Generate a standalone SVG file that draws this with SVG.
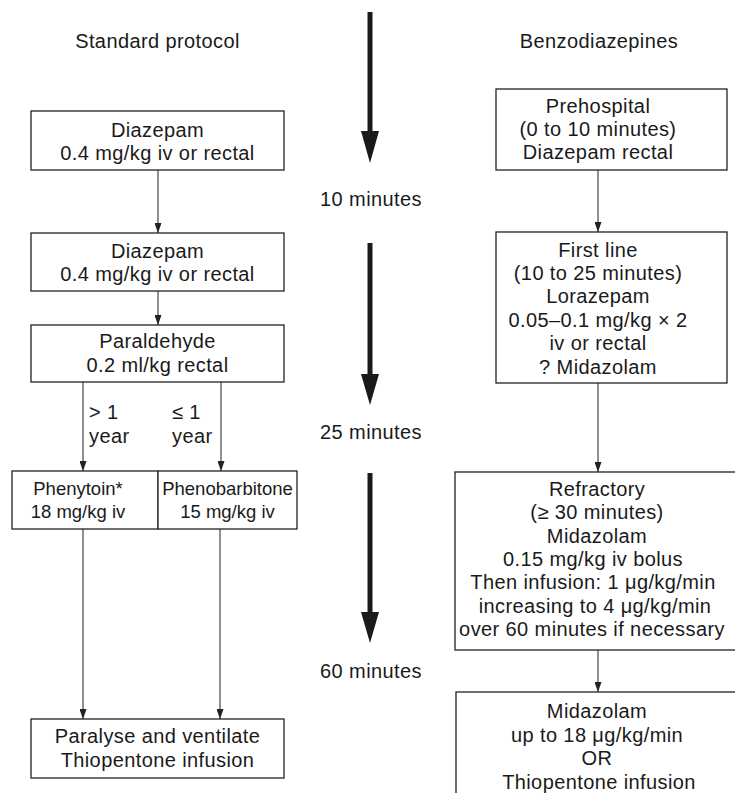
<svg xmlns="http://www.w3.org/2000/svg" width="735" height="793" viewBox="0 0 735 793">
<defs>
<style>
text{font-family:"Liberation Sans",Arial,sans-serif;font-size:20px;fill:#1a1a1a;text-anchor:middle;letter-spacing:0.4px}
.l{text-anchor:start}
.s{font-size:18.5px;letter-spacing:0}
.box{fill:#fff;stroke:#222;stroke-width:1.3}
.c{stroke:#333;stroke-width:1.1;fill:none;marker-end:url(#ah)}
.big{fill:#1a1a1a}
</style>
<marker id="ah" markerUnits="userSpaceOnUse" markerWidth="10" markerHeight="7" refX="10" refY="3.5" orient="auto" viewBox="0 0 10 7">
<path d="M0,0 L10,3.5 L0,7 Z" fill="#222"/>
</marker>
</defs>
<rect width="735" height="793" fill="#fff"/>

<g id="headers">
<text x="157.5" y="48">Standard protocol</text>
<text x="599" y="48">Benzodiazepines</text>
</g>

<g id="timeline">
<path class="big" d="M367.5,12 h5 v119 h6.5 l-9,32 l-9,-32 h6.5 z"/>
<text x="371" y="206">10 minutes</text>
<path class="big" d="M367.5,243 h5 v131 h6.5 l-9,31 l-9,-31 h6.5 z"/>
<text x="371" y="439">25 minutes</text>
<path class="big" d="M367.5,473 h5 v139 h6.5 l-9,31 l-9,-31 h6.5 z"/>
<text x="371" y="678">60 minutes</text>
</g>

<g id="connectors">
<line class="c" x1="158" y1="170" x2="158" y2="233"/>
<line class="c" x1="158" y1="291" x2="158" y2="325"/>
<line class="c" x1="83" y1="382" x2="83" y2="471"/>
<line class="c" x1="221" y1="382" x2="221" y2="471"/>
<line class="c" x1="83" y1="529" x2="83" y2="719"/>
<line class="c" x1="220" y1="529" x2="220" y2="719"/>
<line class="c" x1="598" y1="170" x2="598" y2="232"/>
<line class="c" x1="598" y1="383" x2="598" y2="472"/>
<line class="c" x1="598" y1="650" x2="598" y2="692"/>
<text class="l" x="89" y="419">&gt; 1</text>
<text class="l" x="89" y="443">year</text>
<text class="l" x="172" y="419">≤ 1</text>
<text class="l" x="172" y="443">year</text>
</g>

<g id="diazepam1">
<rect class="box" x="31" y="111" width="253" height="59"/>
<text x="157.5" y="137">Diazepam</text>
<text x="157.5" y="160">0.4 mg/kg iv or rectal</text>
</g>
<g id="diazepam2">
<rect class="box" x="31" y="233" width="253" height="58"/>
<text x="157.5" y="258">Diazepam</text>
<text x="157.5" y="281">0.4 mg/kg iv or rectal</text>
</g>
<g id="paraldehyde">
<rect class="box" x="31" y="325" width="253" height="57"/>
<text x="157.5" y="348">Paraldehyde</text>
<text x="157.5" y="372">0.2 ml/kg rectal</text>
</g>
<g id="phenytoin">
<rect class="box" x="12" y="471" width="146" height="58"/>
<text class="s" x="78" y="495">Phenytoin*</text>
<text class="s" x="78" y="518">18 mg/kg iv</text>
</g>
<g id="phenobarbitone">
<rect class="box" x="158" y="471" width="139" height="58"/>
<text class="s" x="227.5" y="495">Phenobarbitone</text>
<text class="s" x="227.5" y="518">15 mg/kg iv</text>
</g>
<g id="paralyse">
<rect class="box" x="31" y="719" width="253" height="59"/>
<text x="157.5" y="743">Paralyse and ventilate</text>
<text x="157.5" y="767">Thiopentone infusion</text>
</g>

<g id="prehospital">
<rect class="box" x="496" y="89" width="231" height="81"/>
<text x="598" y="113">Prehospital</text>
<text x="598" y="136">(0 to 10 minutes)</text>
<text x="598" y="159">Diazepam rectal</text>
</g>
<g id="firstline">
<rect class="box" x="496" y="232" width="231" height="151"/>
<text x="598" y="257">First line</text>
<text x="598" y="280">(10 to 25 minutes)</text>
<text x="598" y="303">Lorazepam</text>
<text x="598" y="327">0.05–0.1 mg/kg × 2</text>
<text x="598" y="350">iv or rectal</text>
<text x="598" y="374">? Midazolam</text>
</g>
<g id="refractory">
<rect class="box" x="455" y="472" width="290" height="178"/>
<text x="597" y="496">Refractory</text>
<text x="597" y="519">(≥ 30 minutes)</text>
<text x="597" y="543">Midazolam</text>
<text x="593" y="566">0.15 mg/kg iv bolus</text>
<text x="593" y="589">Then infusion: 1 μg/kg/min</text>
<text x="595" y="613">increasing to 4 μg/kg/min</text>
<text x="592" y="636">over 60 minutes if necessary</text>
</g>
<g id="midazolam">
<rect class="box" x="456" y="692" width="290" height="120"/>
<text x="597" y="718">Midazolam</text>
<text x="597" y="742">up to 18 μg/kg/min</text>
<text x="597" y="765">OR</text>
<text x="599" y="789">Thiopentone infusion</text>
</g>
</svg>
